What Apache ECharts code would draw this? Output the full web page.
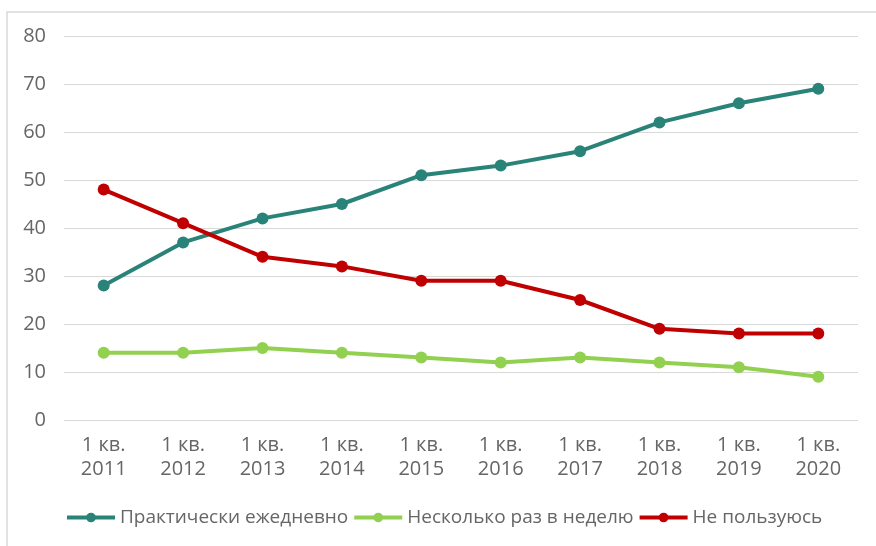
<!DOCTYPE html>
<html>
<head>
<meta charset="utf-8">
<script src="https://cdn.jsdelivr.net/npm/echarts@6/dist/echarts.min.js"></script>
<style>
  html, body { margin: 0; padding: 0; background: #fff; }
  #chart { width: 876px; height: 546px; }
</style>
</head>
<body>
<div id="chart"></div>
<script>
var categories = ['1 кв.\n2011', '1 кв.\n2012', '1 кв.\n2013', '1 кв.\n2014', '1 кв.\n2015',
                  '1 кв.\n2016', '1 кв.\n2017', '1 кв.\n2018', '1 кв.\n2019', '1 кв.\n2020'];
var daily = [28, 37, 42, 45, 51, 53, 56, 62, 66, 69];
var weekly = [14, 14, 15, 14, 13, 12, 13, 12, 11, 9];
var notUsing = [48, 41, 34, 32, 29, 29, 25, 19, 18, 18];
var seriesNames = ['Практически ежедневно', 'Несколько раз в неделю', 'Не пользуюсь'];
var colors = ['#2a8378', '#92d050', '#c00000'];

var chart = echarts.init(document.getElementById('chart'));

function makeLine(name, data, color) {
  return {
    name: name,
    type: 'line',
    data: data,
    symbol: 'circle',
    symbolSize: 12,
    lineStyle: { width: 4, color: color },
    itemStyle: { color: color },
    z: 3
  };
}

var option = {
  animation: false,
  textStyle: { fontFamily: 'Open Sans' },
  graphic: [{
    type: 'rect',
    shape: { x: 7, y: 12, width: 880, height: 560 },
    style: { fill: 'none', stroke: '#d9d9d9', lineWidth: 1.5 },
    silent: true
  }],
  grid: { left: 64, right: 18, top: 36, bottom: 126 },
  legend: {
    bottom: 14,
    left: 60,
    itemWidth: 48,
    itemHeight: 12,
    itemGap: 4,
    lineStyle: { width: 4 },
    textStyle: { fontSize: 19, color: '#666666', fontFamily: 'Open Sans' },
    data: seriesNames
  },
  xAxis: {
    type: 'category',
    data: categories,
    boundaryGap: true,
    axisLine: { show: false },
    axisTick: { show: false },
    axisLabel: { color: '#666666', fontSize: 20, lineHeight: 24, margin: 13, fontFamily: 'Open Sans' }
  },
  yAxis: {
    type: 'value',
    min: 0,
    max: 80,
    interval: 10,
    axisLine: { show: false },
    axisTick: { show: false },
    splitLine: { lineStyle: { color: '#d9d9d9', width: 1 } },
    axisLabel: { color: '#666666', fontSize: 20, margin: 18, fontFamily: 'Open Sans' }
  },
  series: [
    makeLine(seriesNames[0], daily, colors[0]),
    makeLine(seriesNames[1], weekly, colors[1]),
    makeLine(seriesNames[2], notUsing, colors[2])
  ]
};

chart.setOption(option);
</script>
</body>
</html>
